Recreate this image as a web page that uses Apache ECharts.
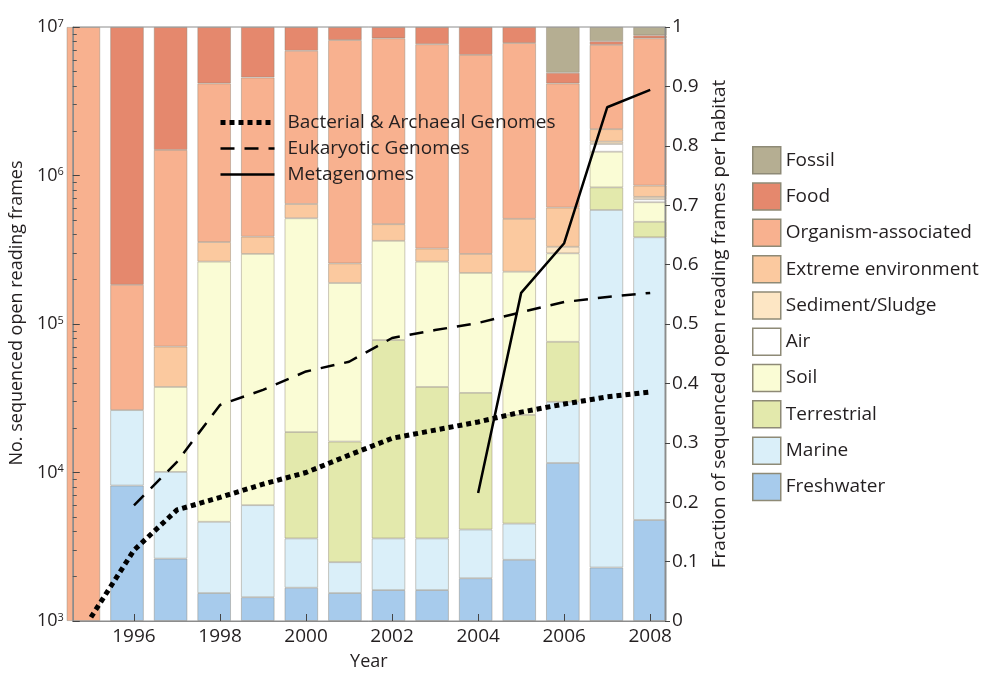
<!DOCTYPE html>
<html>
<head>
<meta charset="utf-8">
<script src="https://cdn.jsdelivr.net/npm/echarts@6/dist/echarts.min.js"></script>
<style>
  html, body { margin: 0; padding: 0; background: #ffffff; }
  #chart { width: 989px; height: 679px; }
</style>
</head>
<body>
<div id="chart"></div>
<script>
// Years shown on the horizontal axis
const years = [1995, 1996, 1997, 1998, 1999, 2000, 2001, 2002, 2003, 2004, 2005, 2006, 2007, 2008];
const yearTicks = [1996, 1998, 2000, 2002, 2004, 2006, 2008];

// Fraction of sequenced ORFs per habitat (right axis), one value per year
const freshwater   = [0, 0.228, 0.105, 0.047, 0.040, 0.056, 0.047, 0.052, 0.052, 0.072, 0.103, 0.266, 0.090, 0.170];
const marine       = [0, 0.127, 0.146, 0.120, 0.155, 0.083, 0.052, 0.087, 0.087, 0.082, 0.061, 0.103, 0.602, 0.476];
const terrestrial  = [0, 0, 0, 0, 0, 0.179, 0.203, 0.334, 0.255, 0.230, 0.183, 0.101, 0.038, 0.026];
const soil         = [0, 0, 0.143, 0.438, 0.423, 0.360, 0.267, 0.167, 0.211, 0.202, 0.241, 0.149, 0.060, 0.033];
const air          = [0, 0, 0, 0, 0, 0, 0, 0, 0, 0, 0, 0, 0.013, 0.005];
const sediment     = [0, 0, 0, 0, 0, 0, 0, 0, 0, 0, 0, 0.011, 0.004, 0.004];
const extreme      = [0, 0, 0.068, 0.033, 0.029, 0.024, 0.033, 0.028, 0.022, 0.032, 0.089, 0.066, 0.021, 0.019];
const organism     = [1, 0.211, 0.331, 0.267, 0.268, 0.258, 0.376, 0.313, 0.344, 0.335, 0.296, 0.209, 0.142, 0.248];
const food         = [0, 0.434, 0.207, 0.095, 0.085, 0.040, 0.022, 0.019, 0.029, 0.047, 0.027, 0.018, 0.006, 0.005];
const fossil       = [0, 0, 0, 0, 0, 0, 0, 0, 0, 0, 0, 0.077, 0.024, 0.014];

// Cumulative number of sequenced ORFs (left, logarithmic axis)
const bactYears = [1995, 1996, 1997, 1998, 1999, 2000, 2001, 2002, 2003, 2004, 2005, 2006, 2007, 2008];
const bactOrfs  = [1060, 3000, 5600, 6800, 8350, 10000, 13100, 17000, 19300, 21900, 25500, 28900, 32300, 34800];
const eukYears  = [1996, 1997, 1998, 1999, 2000, 2001, 2002, 2003, 2004, 2005, 2006, 2007, 2008];
const eukOrfs   = [6000, 11800, 28500, 36000, 47900, 55700, 80500, 91000, 101600, 120000, 140600, 152000, 162000];
const metaYears = [2004, 2005, 2006, 2007, 2008];
const metaOrfs  = [7270, 162000, 350000, 2880000, 3770000];

const habitats = [
  { name: 'Freshwater',           values: freshwater,  color: '#a7cbec' },
  { name: 'Marine',               values: marine,      color: '#daeff9' },
  { name: 'Terrestrial',          values: terrestrial, color: '#e3e9ac' },
  { name: 'Soil',                 values: soil,        color: '#fafcd5' },
  { name: 'Air',                  values: air,         color: '#ffffff' },
  { name: 'Sediment/Sludge',      values: sediment,    color: '#fde6c4' },
  { name: 'Extreme environment',  values: extreme,     color: '#fbc99f' },
  { name: 'Organism-associated',  values: organism,    color: '#f8b18f' },
  { name: 'Food',                 values: food,        color: '#e5886d' },
  { name: 'Fossil',               values: fossil,      color: '#b5ae92' }
];

const FONT = '"Open Sans", "DejaVu Sans", sans-serif';
const TEXT = '#231f20';
const AXIS = '#8c8c8c';

// minor log ticks (2..9 within each decade), placed on an auxiliary log10 axis
const minorLogTicks = [];
for (let e = 3; e < 7; e++) {
  for (let k = 2; k <= 9; k++) minorLogTicks.push(e + Math.log10(k));
}

// Bars live on their own category grid whose bands line up with the year axis
const barSeries = habitats.map(h => ({
  name: h.name,
  type: 'bar',
  stack: 'habitat',
  xAxisIndex: 1,
  yAxisIndex: 3,
  barWidth: 33.5,
  itemStyle: { color: h.color, borderColor: 'rgba(140,130,115,0.55)', borderWidth: 0.8 },
  emphasis: { disabled: true },
  data: h.values.map(v => (v > 0 ? v : null))
}));

const lineSeries = [
  {
    name: 'Bacterial & Archaeal Genomes', type: 'line', xAxisIndex: 0, yAxisIndex: 0,
    symbol: 'none', itemStyle: { color: '#000' }, emphasis: { disabled: true }, z: 12,
    lineStyle: { color: '#000', width: 5, type: [5, 4], cap: 'butt' },
    data: bactYears.map((y, i) => [y, bactOrfs[i]])
  },
  {
    name: 'Eukaryotic Genomes', type: 'line', xAxisIndex: 0, yAxisIndex: 0,
    symbol: 'none', itemStyle: { color: '#000' }, emphasis: { disabled: true }, z: 12,
    lineStyle: { color: '#000', width: 2.5, type: [14, 10], cap: 'butt' },
    data: eukYears.map((y, i) => [y, eukOrfs[i]])
  },
  {
    name: 'Metagenomes', type: 'line', xAxisIndex: 0, yAxisIndex: 0,
    symbol: 'none', itemStyle: { color: '#000' }, emphasis: { disabled: true }, z: 12,
    lineStyle: { color: '#000', width: 2.5 },
    data: metaYears.map((y, i) => [y, metaOrfs[i]])
  }
];

const chart = echarts.init(document.getElementById('chart'), null, { renderer: 'canvas' });
chart.setOption({
  animation: false,
  backgroundColor: '#ffffff',
  textStyle: { fontFamily: FONT, color: TEXT },
  grid: [
    { left: 65, right: 324, top: 27, bottom: 58, show: true, borderColor: AXIS, borderWidth: 1, backgroundColor: 'transparent', z: 8 },
    { left: 61.63, right: 317.21, top: 27, bottom: 58, show: false }
  ],
  legend: [
    {
      data: lineSeries.map(s => s.name),
      orient: 'vertical', left: 213, top: 108,
      itemWidth: 54, itemHeight: 14, itemGap: 7,
      selectedMode: false,
      itemStyle: { opacity: 0, borderWidth: 0 },
      lineStyle: { width: 'inherit' },
      textStyle: { fontFamily: FONT, fontSize: 19, color: TEXT, lineHeight: 19, padding: [0, 0, 0, 8] }
    },
    {
      data: habitats.slice().reverse().map(h => h.name),
      orient: 'vertical', left: 747, top: 141,
      icon: 'rect', itemWidth: 28, itemHeight: 27, itemGap: 7.8,
      selectedMode: false,
      itemStyle: { borderColor: '#8e8a76', borderWidth: 1.5 },
      textStyle: { fontFamily: FONT, fontSize: 19, color: TEXT }
    }
  ],
  xAxis: [
    {
      type: 'value', gridIndex: 0, min: 1994.577, max: 2008.344, z: 10,
      name: 'Year', nameLocation: 'middle', nameGap: 32,
      nameTextStyle: { fontFamily: FONT, fontSize: 18, color: TEXT },
      axisLine: { show: true, lineStyle: { color: AXIS, width: 1 } },
      axisTick: { show: true, inside: true, length: 7, customValues: yearTicks, lineStyle: { color: '#444' } },
      axisLabel: { customValues: yearTicks, fontSize: 19, color: TEXT, margin: 6, fontFamily: FONT, formatter: v => String(v) },
      splitLine: { show: false }
    },
    {
      type: 'category', gridIndex: 1, data: years.map(String),
      show: false, boundaryGap: true
    }
  ],
  yAxis: [
    {
      type: 'log', logBase: 10, min: 1000, max: 10000000, position: 'left', gridIndex: 0, z: 10,
      name: 'No. sequenced open reading frames', nameLocation: 'middle', nameGap: 37, nameRotate: 90,
      nameTextStyle: { fontFamily: FONT, fontSize: 18, color: TEXT, padding: [0, 0, 0, 22] },
      axisLine: { show: true, lineStyle: { color: AXIS } },
      axisTick: { show: true, inside: true, length: 7, lineStyle: { color: '#444' } },
      axisLabel: {
        margin: 9, color: TEXT, fontFamily: FONT,
        formatter: v => '{b|10}{s|' + Math.round(Math.log10(v)) + '}',
        rich: {
          b: { fontSize: 18, fontFamily: FONT, color: TEXT, verticalAlign: 'bottom' },
          s: { fontSize: 11, fontFamily: FONT, color: TEXT, verticalAlign: 'top' }
        }
      },
      splitLine: { show: false }
    },
    {
      type: 'value', min: 0, max: 1, interval: 0.1, position: 'right', gridIndex: 0, z: 10,
      name: 'Fraction of sequenced open reading frames per habitat', nameLocation: 'middle', nameGap: 42, nameRotate: 90,
      nameTextStyle: { fontFamily: FONT, fontSize: 19, color: TEXT },
      axisLine: { show: true, lineStyle: { color: AXIS } },
      axisTick: { show: true, inside: false, length: 5, lineStyle: { color: '#444' } },
      axisLabel: { fontSize: 19, color: TEXT, margin: 7, fontFamily: FONT },
      splitLine: { show: false }
    },
    {
      type: 'value', min: 3, max: 7, position: 'left', offset: 0, gridIndex: 0, z: 10,
      axisLine: { show: false },
      axisTick: { show: true, inside: true, length: 4, customValues: minorLogTicks, lineStyle: { color: '#555' } },
      axisLabel: { show: false },
      splitLine: { show: false }
    },
    {
      type: 'value', min: 0, max: 1, gridIndex: 1, show: false
    }
  ],
  series: barSeries.concat(lineSeries)
});
</script>
</body>
</html>
